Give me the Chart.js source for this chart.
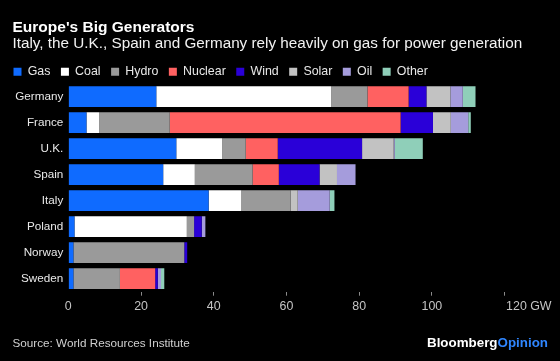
<!DOCTYPE html>
<html><head><meta charset="utf-8">
<script src="https://cdn.jsdelivr.net/npm/chart.js@4/dist/chart.umd.min.js"></script>
<style>html,body{margin:0;padding:0;background:#000;overflow:hidden}#wrap{width:560px;height:361px;position:relative}</style>
</head><body><div id="wrap"><canvas id="c" width="560" height="361"></canvas></div>
<script>
// ---- data (GW of capacity by source) ----
const categories = ['Germany','France','U.K.','Spain','Italy','Poland','Norway','Sweden'];
const gas     = [24.2,  5.0, 29.7, 26.1, 38.6,  1.7,  1.4,  1.4];
const coal    = [48.1,  3.5, 12.6,  8.7,  9.0, 30.9,  0,    0  ];
const hydro   = [10.0, 19.4,  6.5, 15.9, 13.5,  2.0, 30.5, 12.8];
const nuclear = [11.3, 63.5,  8.8,  7.2,  0,    0,    0,    9.7];
const wind    = [ 4.9,  8.9, 23.2, 11.2,  0,    2.1,  0.8,  0.7];
const solar   = [ 6.6,  4.9,  8.7,  4.8,  2.0,  0,    0,    0  ];
const oil     = [ 3.4,  4.8,  0.3,  5.1,  8.8,  1.0,  0,    0.9];
const other   = [ 3.5,  0.7,  7.7,  0,    1.3,  0,    0,    0.9];
const seriesNames = ['Gas','Coal','Hydro','Nuclear','Wind','Solar','Oil','Other'];
const xTicks = [0, 20, 40, 60, 80, 100, 120];
const unitLabel = 'GW';
const titleText = "Europe's Big Generators";
const subtitleText = 'Italy, the U.K., Spain and Germany rely heavily on gas for power generation';
const sourceText = 'Source: World Resources Institute';

// ---- styles ----
const FF = '"Liberation Sans", Arial, Helvetica, sans-serif';
const seriesColors = ['#0f6bff','#ffffff','#9a9a9a','#ff6161','#2a00d8','#c2c2c2','#a59cdc','#8fcfb9'];
const seriesValues = [gas, coal, hydro, nuclear, wind, solar, oil, other];
const tickColor = '#c4c4c4';

function fitSize(ctx, text, weight, target){
  ctx.font = weight + ' 20px ' + FF;
  return 20 * target / ctx.measureText(text).width;
}

const textPlugin = {
  id: 'texts',
  afterDraw(chart){
    const ctx = chart.ctx;
    ctx.save();
    ctx.textAlign = 'left';
    ctx.textBaseline = 'alphabetic';
    let fs = fitSize(ctx, titleText, 'bold', 182);
    ctx.font = 'bold ' + fs + 'px ' + FF; ctx.fillStyle = '#ffffff';
    ctx.fillText(titleText, 12.5, 32);
    fs = fitSize(ctx, subtitleText, 'normal', 510);
    ctx.font = 'normal ' + fs + 'px ' + FF; ctx.fillStyle = '#f2f2f2';
    ctx.fillText(subtitleText, 12.5, 47.5);
    fs = fitSize(ctx, sourceText, 'normal', 177.5);
    ctx.font = 'normal ' + fs + 'px ' + FF; ctx.fillStyle = '#d0d0d0';
    ctx.fillText(sourceText, 12.5, 346.5);
    // logo
    fs = fitSize(ctx, 'BloombergOpinion', 'bold', 121);
    ctx.font = 'bold ' + fs + 'px ' + FF;
    ctx.fillStyle = '#ffffff';
    ctx.fillText('Bloomberg', 427, 346.5);
    const bw = ctx.measureText('Bloomberg').width;
    ctx.fillStyle = '#2f86ff';
    ctx.fillText('Opinion', 427 + bw, 346.5);
    // last tick label with unit
    const xs = chart.scales.x;
    const last = xTicks[xTicks.length - 1];
    ctx.font = 'normal 12.4px ' + FF; ctx.fillStyle = tickColor;
    ctx.textBaseline = 'middle';
    ctx.fillText(last + ' ' + unitLabel, xs.getPixelForValue(last) + 1.5, xs.top + 4 + 3 + 12.4 * 1.2 / 2);
    ctx.restore();
  }
};

new Chart(document.getElementById('c'), {
  type: 'bar',
  data: {
    labels: categories,
    datasets: seriesNames.map((n, i) => ({
      label: n, data: seriesValues[i], backgroundColor: seriesColors[i],
      borderWidth: 0, barPercentage: 0.8, categoryPercentage: 1.0
    }))
  },
  options: {
    indexAxis: 'y', responsive: false, animation: false,
    devicePixelRatio: 1,
    layout: { padding: { left: 3, right: 55.4, top: 55, bottom: 44.3 } },
    plugins: {
      legend: {
        position: 'top', align: 'start', maxHeight: 28.7,
        labels: { boxWidth: 8, boxHeight: 8, padding: 10.5, color: '#e8e8e8', font: { family: FF, size: 12.4 } }
      },
      tooltip: { enabled: false },
      title: { display: false }
    },
    scales: {
      x: {
        stacked: true, min: xTicks[0], max: xTicks[xTicks.length - 1],
        afterFit(s){ s.height = 25; },
        afterBuildTicks(s){ s.ticks = xTicks.map(v => ({ value: v })); },
        border: { display: false },
        grid: { drawOnChartArea: false, drawTicks: true, tickLength: 4,
                color: c => (c.tick && c.tick.value === 0) ? 'rgba(0,0,0,0)' : '#8a8a8a' },
        ticks: { color: tickColor, padding: 3, font: { family: FF, size: 12.4 }, maxRotation: 0,
                 autoSkip: false,
                 callback: v => v === xTicks[xTicks.length - 1] ? '' : String(v) }
      },
      y: {
        stacked: true,
        afterFit(s){ s.width = 65.3; },
        border: { display: false },
        grid: { display: false, drawTicks: false },
        ticks: { color: '#e8e8e8', padding: 5, font: { family: FF, size: 11.7 } }
      }
    }
  },
  plugins: [textPlugin]
});
</script></body></html>
